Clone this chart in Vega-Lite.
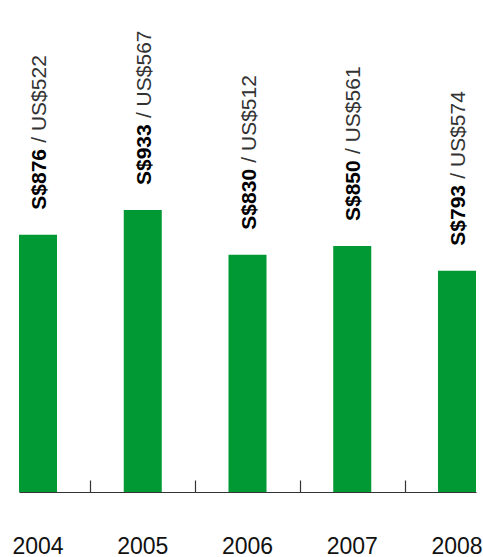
{
  "$schema": "https://vega.github.io/schema/vega-lite/v6.json",
  "width": 457,
  "height": 492,
  "autosize": {"type": "none"},
  "padding": {"left": 19, "top": 0, "right": 7, "bottom": 65},
  "background": "white",
  "config": {"view": {"stroke": null}, "font": "Liberation Sans"},
  "data": {
    "values": [
      {"year": "2004", "sgd": 876, "usd": 522, "sgd_text": "S$876", "usd_text": "/ US$522"},
      {"year": "2005", "sgd": 933, "usd": 567, "sgd_text": "S$933", "usd_text": "/ US$567"},
      {"year": "2006", "sgd": 830, "usd": 512, "sgd_text": "S$830", "usd_text": "/ US$512"},
      {"year": "2007", "sgd": 850, "usd": 561, "sgd_text": "S$850", "usd_text": "/ US$561"},
      {"year": "2008", "sgd": 793, "usd": 574, "sgd_text": "S$793", "usd_text": "/ US$574"}
    ]
  },
  "encoding": {
    "x": {
      "field": "year",
      "type": "ordinal",
      "scale": {"paddingInner": 0.637, "paddingOuter": 0}
    },
    "y": {
      "field": "sgd",
      "type": "quantitative",
      "scale": {"domain": [282, 1418], "zero": false, "nice": false},
      "axis": null
    }
  },
  "layer": [
    {
      "mark": {"type": "bar", "color": "#009933"},
      "encoding": {
        "x": {
          "field": "year",
          "type": "ordinal",
          "axis": {
            "title": null,
            "orient": "bottom",
            "ticks": false,
            "tickSize": 0,
            "labelAngle": 0,
            "labelFontSize": 23,
            "labelColor": "#111111",
            "labelPadding": 43,
            "labelFont": "Liberation Sans",
            "domain": true,
            "domainColor": "#333333",
            "domainWidth": 1.2,
            "grid": false
          }
        },
        "y2": {"datum": 282}
      }
    },
    {
      "mark": {
        "type": "text",
        "angle": 270,
        "align": "left",
        "baseline": "middle",
        "dx": 25,
        "dy": 2,
        "fontSize": 21,
        "fontWeight": "bold",
        "color": "#000000",
        "font": "Liberation Sans"
      },
      "encoding": {
        "x": {
          "field": "year",
          "type": "ordinal",
          "axis": {
            "title": null,
            "orient": "bottom",
            "values": ["2004", "2005", "2006", "2007"],
            "labels": false,
            "domain": false,
            "grid": false,
            "ticks": true,
            "tickSize": -12,
            "tickOffset": 52.4,
            "tickColor": "#333333",
            "tickWidth": 1.2
          }
        },
        "text": {"field": "sgd_text", "type": "nominal"}
      }
    },
    {
      "mark": {
        "type": "text",
        "angle": 270,
        "align": "left",
        "baseline": "middle",
        "dx": 92,
        "dy": 2,
        "fontSize": 21,
        "fontWeight": "normal",
        "color": "#333333",
        "font": "Liberation Sans"
      },
      "encoding": {
        "x": {"field": "year", "type": "ordinal", "axis": null},
        "text": {"field": "usd_text", "type": "nominal"}
      }
    }
  ],
  "resolve": {"axis": {"x": "independent"}}
}
